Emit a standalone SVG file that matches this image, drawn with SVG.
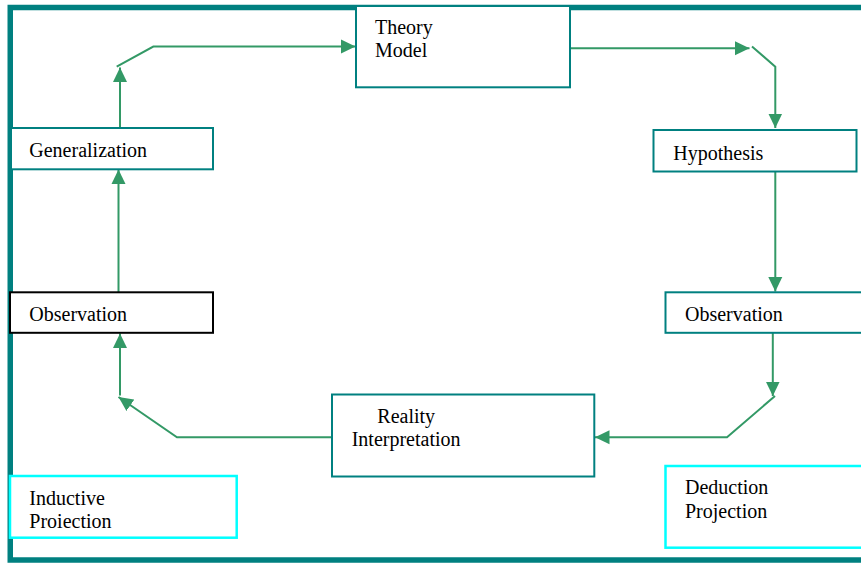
<svg xmlns="http://www.w3.org/2000/svg" width="861" height="565" viewBox="0 0 861 565">
  <style>
    .box { fill: #ffffff; stroke-width: 2; }
    .teal { stroke: #008080; }
    .dark { stroke: #000000; }
    .cyan { stroke: #00ffff; stroke-width: 2.5; }
    .lbl { font-family: "Liberation Serif", "Times New Roman", serif; font-size: 20px; fill: #000000; }
    .link { fill: none; stroke: #339966; stroke-width: 2; marker-end: url(#arrow); }
  </style>
  <defs>
    <marker id="arrow" markerUnits="userSpaceOnUse" markerWidth="15" markerHeight="15" viewBox="0 0 15 15" refX="14.5" refY="7.5" orient="auto">
      <path d="M0,0.5 L14.5,7.5 L0,14.5 Z" fill="#339966"/>
    </marker>
  </defs>

  <rect x="0" y="0" width="861" height="565" fill="#ffffff"/>

  <!-- outer frame -->
  <rect x="10.25" y="7.5" width="900" height="552.5" fill="none" stroke="#008080" stroke-width="5.5"/>

  <!-- connectors -->
  <g id="connectors">
    <path class="link" d="M118.5 292 V169.5"/>
    <path class="link" d="M120 128 V67.5"/>
    <path class="link" d="M116.7 66.7 L153.3 46.5 H355.5"/>
    <path class="link" d="M570 48.3 H749.5"/>
    <path class="link" d="M752 46.5 L775.3 66.7 V128"/>
    <path class="link" d="M775.3 172 V291.5"/>
    <path class="link" d="M772.8 333 V396"/>
    <path class="link" d="M775 396 L727 437.3 H595"/>
    <path class="link" d="M332 437.3 H177 L118.5 397"/>
    <path class="link" d="M120 395.5 V333.5"/>
  </g>

  <g id="theory-model">
    <rect class="box teal" x="356" y="6" width="214" height="81.3"/>
    <text class="lbl" x="375" y="34">Theory</text>
    <text class="lbl" x="375" y="57">Model</text>
  </g>

  <g id="generalization">
    <rect class="box teal" x="11" y="128" width="202" height="41.3"/>
    <text class="lbl" x="29.3" y="157">Generalization</text>
  </g>

  <g id="hypothesis">
    <rect class="box teal" x="653.5" y="130" width="203" height="41.5"/>
    <text class="lbl" x="673.3" y="159.5">Hypothesis</text>
  </g>

  <g id="observation-left">
    <rect class="box dark" x="10" y="292.3" width="203" height="40.5"/>
    <text class="lbl" x="29.3" y="321">Observation</text>
  </g>

  <g id="observation-right">
    <rect class="box teal" x="665.5" y="292.3" width="220" height="40.5"/>
    <text class="lbl" x="685" y="321">Observation</text>
  </g>

  <g id="reality-interpretation">
    <rect class="box teal" x="332" y="394.5" width="262.3" height="82"/>
    <text class="lbl" x="377.3" y="423">Reality</text>
    <text class="lbl" x="351.7" y="445.5">Interpretation</text>
  </g>

  <g id="inductive-projection">
    <rect class="box cyan" x="10" y="476" width="226.7" height="61.7"/>
    <text class="lbl" x="29.3" y="505">Inductive</text>
    <text class="lbl" x="29.3" y="527.5">Proiection</text>
  </g>

  <g id="deduction-projection">
    <rect class="box cyan" x="665.5" y="466" width="220" height="81.7"/>
    <text class="lbl" x="685" y="493.5">Deduction</text>
    <text class="lbl" x="685" y="517.5">Projection</text>
  </g>
</svg>
